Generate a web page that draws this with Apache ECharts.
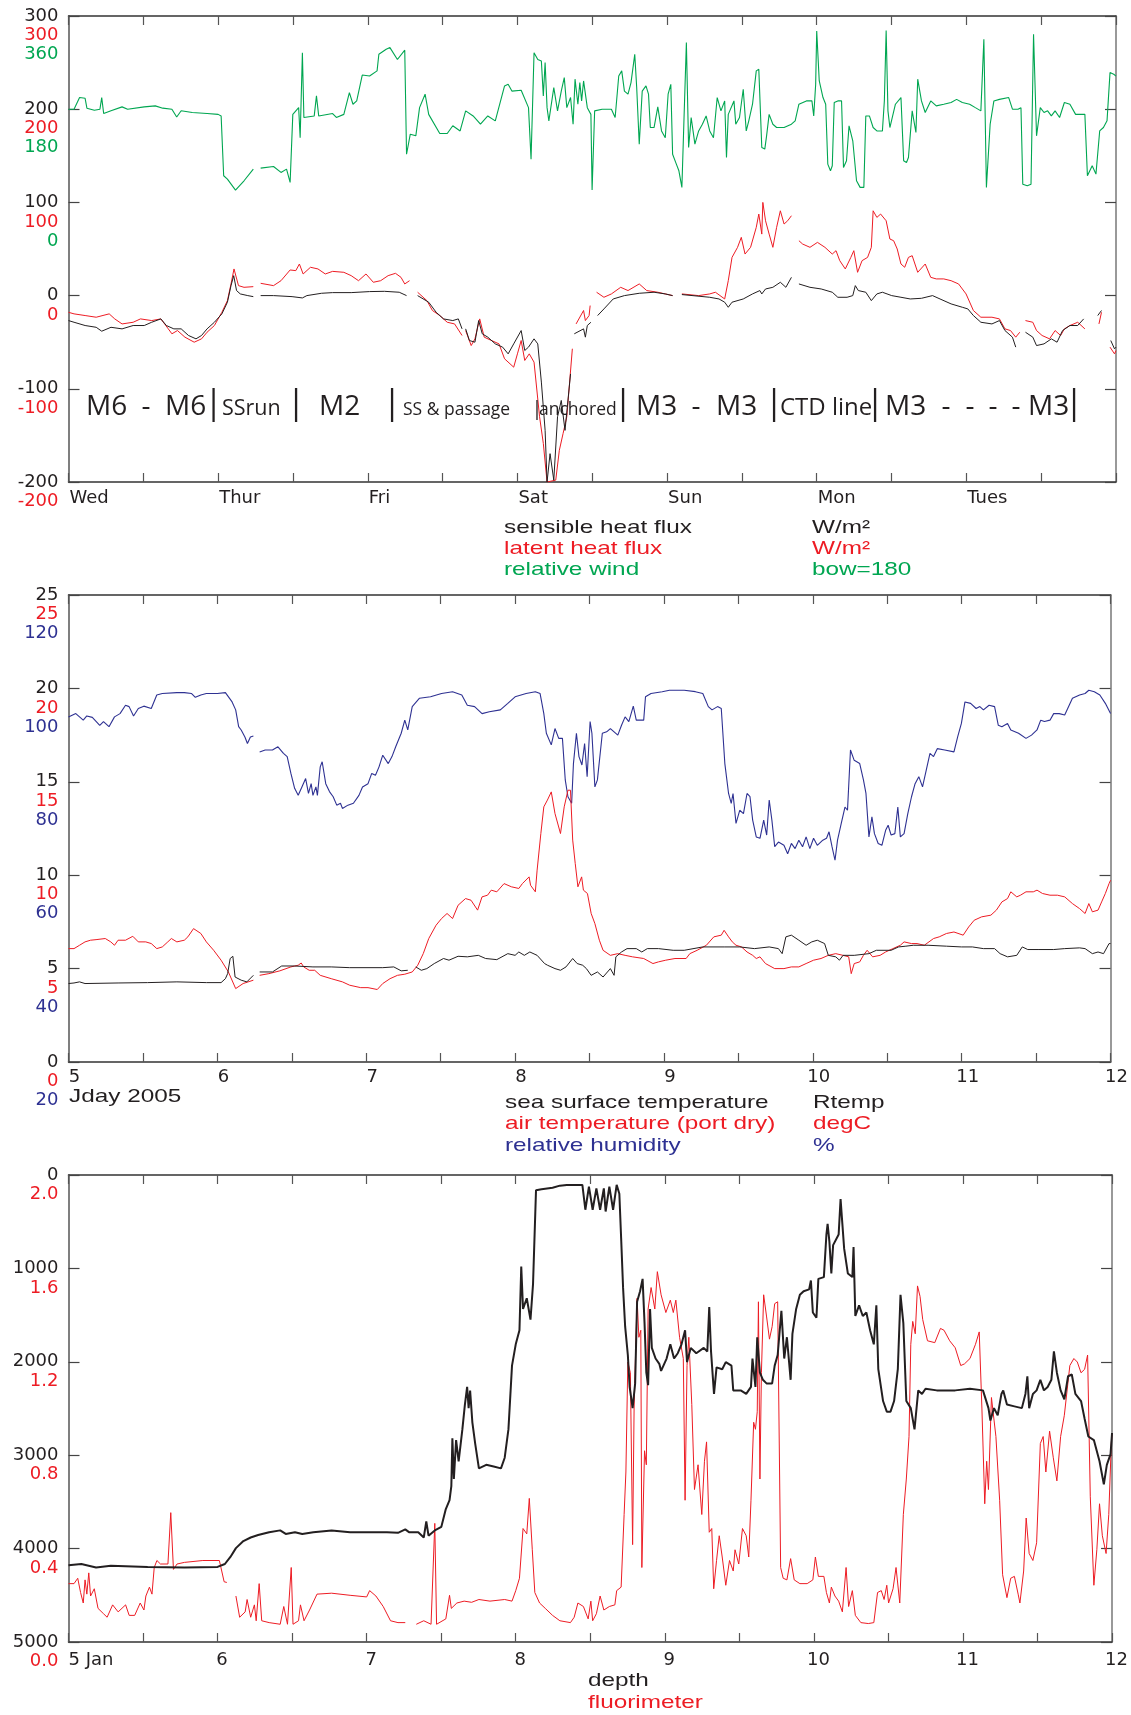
<!DOCTYPE html>
<html><head><meta charset="utf-8">
<script src="https://cdn.jsdelivr.net/npm/echarts@6/dist/echarts.min.js"></script>
<style>html,body{margin:0;padding:0;background:#fff}#c{width:1131px;height:1715px}</style>
</head><body><div id="c"></div>
<script>
// ---------- tick labels ----------
const dayNames = ['Wed','Thur','Fri','Sat','Sun','Mon','Tues'];
const windTickLabels = {100:'0', 200:'180', 300:'360'};
const fluorTickLabels = {0:'2.0', 1000:'1.6', 2000:'1.2', 3000:'0.8', 4000:'0.4', 5000:'0.0'};
const rhTickLabels = {0:'20', 5:'40', 10:'60', 15:'80', 20:'100', 25:'120'};

// ---------- panel 1 : fluxes (W/m2) and relative wind (deg) ----------
const sensibleFlux = [[5.000,-26.8],[5.037,-28.6],[5.111,-32.1],[5.185,-34],[5.222,-38.2],[5.284,-34],[5.358,-35.7],[5.432,-32.1],[5.506,-32.1],[5.556,-28.6],[5.617,-25],[5.654,-32.1],[5.704,-35.7],[5.753,-35.7],[5.802,-42.8],[5.852,-46.4],[5.889,-42.8],[5.926,-35.7],[5.975,-28.6],[6.025,-19.6],[6.062,-7.1],[6.086,10.7],[6.104,21.4],[6.123,5.4],[6.148,1.8],[6.198,0],[6.235,-1.1],[6.26,null],[6.284,0],[6.370,0],[6.494,-1.1],[6.563,-2.5],[6.593,0],[6.691,2.5],[6.765,3.2],[6.889,3.2],[7.012,4.3],[7.111,4.6],[7.210,3.6],[7.259,0],[7.30,null],[7.333,0],[7.407,-7.1],[7.457,-17.9],[7.506,-25],[7.568,-26.8],[7.605,-25],[7.630,-35.7],[7.642,null],[7.654,-35.7],[7.679,-48.2],[7.716,-50],[7.741,-26.8],[7.765,-41],[7.802,-44.6],[7.852,-51.8],[7.901,-55.3],[7.938,-62.5],[7.975,-51.8],[8.025,-37.5],[8.049,-58.9],[8.074,-55.3],[8.111,-46.4],[8.136,-51.8],[8.160,-92.8],[8.185,-144.6],[8.198,-200],[8.218,-169.6],[8.243,-198],[8.268,-130],[8.293,-112.5],[8.318,-144.6],[8.355,-84],[8.37,null],[8.380,-41],[8.442,-35.7],[8.454,-44.6],[8.467,-32.1],[8.491,-28.6],[8.51,null],[8.536,-21.4],[8.578,-14.3],[8.640,-3.6],[8.715,0],[8.814,2.5],[8.913,3.6],[8.988,1.8],[9.037,0],[9.07,null],[9.099,1.1],[9.285,-1.8],[9.347,-3.6],[9.385,-7.1],[9.409,-12.5],[9.434,-7.1],[9.509,-3.6],[9.571,1.8],[9.620,5.4],[9.633,1.8],[9.658,7.1],[9.707,8.9],[9.757,14.3],[9.794,8.9],[9.831,19.6],[9.86,null],[9.881,12.5],[9.955,8.9],[10.030,7.1],[10.104,3.6],[10.141,-1.8],[10.203,-1.8],[10.241,0],[10.258,10.7],[10.278,5.4],[10.328,3.6],[10.365,-5.4],[10.402,1.8],[10.439,3.6],[10.501,0],[10.563,-1.8],[10.625,-3.6],[10.700,-2.9],[10.774,0],[10.824,-3.6],[10.898,-8.9],[10.973,-12.5],[11.010,-14.3],[11.047,-21.4],[11.097,-28.6],[11.171,-30.4],[11.221,-26.8],[11.258,-37.5],[11.308,-44.6],[11.330,-55.3],[11.36,null],[11.395,-39.3],[11.444,-44.6],[11.469,-53.6],[11.519,-51.8],[11.568,-46.4],[11.606,-50],[11.643,-37.5],[11.692,-32.1],[11.744,-32.1],[11.784,-25],[11.83,null],[11.878,-21.4],[11.903,-16],[11.93,null],[11.965,-48.2],[11.990,-57.1],[12.0,-55.3]];

const latentFlux = [[5.000,-17.9],[5.037,-19.6],[5.111,-21.4],[5.185,-23.2],[5.272,-19.6],[5.309,-25],[5.358,-30.4],[5.432,-28.6],[5.481,-25],[5.556,-26.8],[5.617,-25],[5.667,-35.7],[5.691,-41],[5.728,-37.5],[5.778,-44.6],[5.840,-50],[5.889,-46.4],[5.926,-39.3],[5.975,-32.1],[6.025,-17.9],[6.062,-5.4],[6.086,12.5],[6.106,28.6],[6.136,10.7],[6.173,8.9],[6.235,9.6],[6.26,null],[6.284,13.2],[6.370,10.7],[6.420,16],[6.481,27.5],[6.519,26.8],[6.543,33.9],[6.568,23.2],[6.617,30.4],[6.667,28.6],[6.716,23.2],[6.765,26],[6.840,25],[6.889,21.4],[6.938,16],[6.988,23.2],[7.037,14.3],[7.086,16],[7.136,21.4],[7.185,23.9],[7.222,19.6],[7.247,12.5],[7.279,16],[7.30,null],[7.333,3.6],[7.395,-5.4],[7.432,-16],[7.481,-21.4],[7.531,-28.6],[7.580,-30.4],[7.630,-42.8],[7.642,null],[7.654,-37.5],[7.691,-53.6],[7.716,-46.4],[7.748,-25],[7.778,-44.6],[7.827,-48.2],[7.877,-51.8],[7.914,-67.8],[7.975,-76.8],[8.000,-62.5],[8.025,-48.2],[8.049,-69.6],[8.079,-62.5],[8.111,-71.4],[8.148,-130],[8.173,-158.6],[8.198,-200],[8.256,-198],[8.280,-166],[8.305,-148],[8.330,-130],[8.367,-57],[8.38,null],[8.392,-30.4],[8.442,-16],[8.454,-26.8],[8.479,-21.4],[8.486,-10.7],[8.51,null],[8.529,3.6],[8.578,-1.8],[8.628,1.8],[8.690,8.9],[8.739,5.4],[8.814,12.5],[8.864,5.4],[8.938,3.6],[9.037,0],[9.07,null],[9.099,1.8],[9.211,0],[9.285,1.8],[9.323,3.6],[9.385,-3.6],[9.409,16],[9.434,41],[9.471,51.8],[9.496,62.5],[9.521,44.6],[9.558,51.8],[9.596,73.2],[9.613,87.5],[9.633,66],[9.640,100],[9.658,80.3],[9.682,66],[9.707,51.8],[9.732,73.2],[9.757,91],[9.782,76.8],[9.806,80.3],[9.831,85.7],[9.86,null],[9.881,58.9],[9.906,55.3],[9.955,51.8],[10.005,57.1],[10.055,51.8],[10.104,44.6],[10.129,48.2],[10.154,37.5],[10.191,28.6],[10.228,41],[10.248,48.2],[10.273,25],[10.303,37.5],[10.340,41],[10.365,51.8],[10.377,91],[10.402,83.9],[10.427,87.5],[10.464,80.3],[10.489,60.7],[10.514,58.9],[10.538,50],[10.563,33.9],[10.588,30.4],[10.613,41],[10.638,42.8],[10.675,25],[10.725,33.9],[10.762,19.6],[10.799,17.9],[10.849,17.9],[10.898,16],[10.948,12.5],[10.998,1.8],[11.047,-16],[11.097,-23.2],[11.171,-23.2],[11.221,-25],[11.258,-35.7],[11.295,-37.5],[11.330,-44.6],[11.357,-39.3],[11.375,null],[11.395,-26.8],[11.444,-28.6],[11.469,-37.5],[11.506,-42.8],[11.556,-46.4],[11.593,-37.5],[11.630,-42.8],[11.655,-35.7],[11.692,-32.1],[11.744,-28.6],[11.792,-35.7],[11.84,null],[11.886,-30.4],[11.903,-17.9],[11.93,null],[11.960,-55.3],[11.990,-62.5],[12.0,-59]];

const relativeWind = [[5.000,180],[5.037,180],[5.074,202.5],[5.111,201],[5.123,182],[5.173,178],[5.210,180],[5.222,202.5],[5.235,171.6],[5.284,177],[5.358,184.5],[5.395,180],[5.506,184.5],[5.580,186.4],[5.630,182],[5.691,180],[5.723,165],[5.753,177],[5.827,173.6],[5.926,171.6],[6.000,170],[6.020,167],[6.037,51.4],[6.062,45],[6.116,23.8],[6.173,41.8],[6.235,64.3],[6.26,null],[6.284,66.2],[6.370,69.4],[6.420,57.9],[6.457,64.3],[6.481,38.6],[6.499,170],[6.538,183],[6.548,125],[6.563,289],[6.573,164],[6.642,167],[6.657,205.7],[6.672,167],[6.765,171.6],[6.790,164],[6.840,170],[6.877,212],[6.901,189.6],[6.926,196],[6.963,246],[7.012,244],[7.062,254],[7.074,286],[7.123,295.7],[7.148,299],[7.198,276],[7.247,294],[7.259,93],[7.284,131.8],[7.321,128.6],[7.346,183],[7.383,209],[7.407,170],[7.481,133],[7.531,133],[7.568,148],[7.617,138],[7.654,176.8],[7.704,167],[7.753,151],[7.802,167],[7.852,157.5],[7.914,225],[7.938,228],[7.963,215],[8.025,216.6],[8.074,183],[8.091,83.6],[8.111,289],[8.136,276],[8.160,273],[8.173,205.7],[8.185,270],[8.198,183],[8.210,157.5],[8.243,221.8],[8.268,176.8],[8.293,215],[8.313,241],[8.330,183],[8.355,202.5],[8.372,151],[8.385,238],[8.404,189.6],[8.417,231.4],[8.429,196],[8.442,234.6],[8.467,183],[8.491,170],[8.499,23.8],[8.516,176.8],[8.566,180],[8.628,180],[8.653,164],[8.677,244],[8.697,254],[8.715,215],[8.739,209],[8.759,231.4],[8.784,286],[8.797,221.8],[8.814,112.5],[8.834,215],[8.859,225],[8.876,209],[8.888,144.6],[8.913,144.6],[8.938,184.5],[8.963,138],[8.988,125],[9.007,209],[9.025,228],[9.037,93],[9.062,74],[9.079,61],[9.099,29],[9.112,151],[9.129,308.6],[9.144,106],[9.161,164],[9.186,112.5],[9.211,138],[9.236,151],[9.261,167],[9.285,138],[9.310,125],[9.335,202.5],[9.360,176.8],[9.385,196],[9.397,86.8],[9.409,170],[9.447,196],[9.459,151],[9.484,164],[9.509,218.6],[9.529,138],[9.546,157.5],[9.571,189.6],[9.596,254],[9.613,257],[9.633,106],[9.653,103],[9.665,128.6],[9.682,170],[9.707,151],[9.732,144.6],[9.782,144.6],[9.831,151],[9.856,157.5],[9.881,189.6],[9.931,196],[9.968,196],[9.980,167],[9.993,228],[10.000,331],[10.017,234.6],[10.042,202.5],[10.060,189.6],[10.074,74],[10.092,61],[10.104,70.7],[10.117,193],[10.141,196],[10.166,196],[10.179,67.5],[10.199,80.4],[10.216,148],[10.241,119],[10.266,41.8],[10.290,29],[10.315,29],[10.328,167],[10.352,167],[10.377,144.6],[10.402,138],[10.439,138],[10.452,196],[10.464,332],[10.476,176.8],[10.489,144.6],[10.526,189.6],[10.563,202.5],[10.581,80.4],[10.600,77],[10.613,86.8],[10.638,176.8],[10.663,135],[10.675,238],[10.700,196],[10.725,173.6],[10.762,196],[10.799,186.4],[10.849,189.6],[10.898,193],[10.935,199],[10.973,193],[11.022,189.6],[11.060,183],[11.097,176.8],[11.117,315],[11.134,29],[11.159,151],[11.184,196],[11.221,199],[11.283,202.5],[11.308,180],[11.345,180],[11.365,183],[11.377,35],[11.407,32],[11.432,35],[11.449,324.7],[11.469,128.6],[11.494,183],[11.519,173.6],[11.543,176.8],[11.568,167],[11.593,176.8],[11.623,164],[11.655,193],[11.692,189.6],[11.730,170],[11.792,170],[11.809,51.4],[11.841,70.7],[11.866,54.6],[11.891,138],[11.916,144.6],[11.940,157.5],[11.960,250.7],[11.985,247.5],[12.0,244]];

// ---------- panel 2 : temperatures (degC) and relative humidity (%) ----------
const seaSurfaceTemp = [[5.000,4.20],[5.037,4.23],[5.074,4.29],[5.111,4.20],[5.333,4.23],[5.531,4.25],[5.728,4.29],[5.926,4.25],[6.025,4.25],[6.054,4.46],[6.069,4.73],[6.086,5.54],[6.104,5.66],[6.119,4.55],[6.160,4.38],[6.198,4.29],[6.242,4.64],[6.26,null],[6.284,4.82],[6.370,4.82],[6.432,5.14],[6.519,5.14],[6.642,5.09],[6.765,5.09],[6.889,5.05],[7.012,5.05],[7.025,4.95],[7.111,5.05],[7.185,5.09],[7.235,4.88],[7.279,4.91],[7.30,null],[7.333,5.09],[7.370,4.91],[7.407,5.00],[7.457,5.27],[7.519,5.54],[7.556,5.45],[7.617,5.66],[7.679,5.63],[7.753,5.71],[7.802,5.54],[7.877,5.48],[7.951,5.80],[8.000,5.71],[8.025,5.89],[8.062,5.71],[8.099,5.89],[8.148,5.71],[8.198,5.27],[8.218,5.18],[8.268,5.00],[8.305,4.91],[8.342,5.09],[8.387,5.54],[8.417,5.27],[8.454,5.18],[8.479,5.00],[8.511,4.64],[8.553,4.82],[8.591,4.55],[8.640,5.00],[8.665,4.64],[8.677,5.63],[8.715,5.89],[8.752,6.07],[8.814,6.07],[8.851,5.89],[8.888,6.07],[8.963,6.07],[9.062,5.98],[9.136,5.98],[9.261,6.16],[9.409,6.16],[9.509,6.16],[9.608,6.07],[9.707,6.16],[9.769,6.07],[9.794,5.80],[9.819,6.70],[9.856,6.79],[9.906,6.52],[9.955,6.25],[9.993,6.43],[10.030,6.52],[10.079,6.34],[10.104,5.71],[10.154,5.63],[10.179,5.45],[10.203,5.71],[10.278,5.71],[10.377,5.80],[10.427,5.98],[10.526,5.98],[10.576,6.16],[10.625,6.20],[10.675,6.25],[10.774,6.25],[10.898,6.20],[10.998,6.16],[11.072,6.16],[11.146,6.07],[11.221,6.07],[11.258,5.80],[11.308,5.63],[11.370,5.71],[11.407,6.16],[11.444,6.02],[11.519,6.02],[11.618,6.02],[11.692,6.07],[11.792,6.11],[11.829,6.07],[11.878,5.80],[11.916,5.89],[11.953,5.80],[11.990,6.34],[12.0,6.34]];

const airTemp = [[5.000,6.07],[5.037,6.07],[5.074,6.25],[5.111,6.43],[5.148,6.52],[5.185,6.55],[5.247,6.61],[5.284,6.43],[5.309,6.25],[5.333,6.52],[5.383,6.52],[5.432,6.73],[5.469,6.43],[5.519,6.43],[5.556,6.34],[5.593,6.07],[5.630,6.16],[5.667,6.43],[5.691,6.61],[5.728,6.43],[5.778,6.52],[5.802,6.70],[5.840,7.14],[5.889,6.88],[5.926,6.43],[5.975,5.98],[6.025,5.45],[6.074,4.82],[6.123,3.93],[6.173,4.20],[6.242,4.38],[6.26,null],[6.284,4.64],[6.346,4.73],[6.420,4.88],[6.494,5.09],[6.543,5.18],[6.563,5.30],[6.580,5.09],[6.617,4.91],[6.654,4.91],[6.691,4.64],[6.765,4.46],[6.840,4.29],[6.889,4.11],[6.963,3.98],[7.012,3.98],[7.074,3.88],[7.111,4.20],[7.160,4.46],[7.210,4.64],[7.259,4.70],[7.309,4.82],[7.346,5.18],[7.383,5.80],[7.420,6.61],[7.469,7.32],[7.506,7.68],[7.543,7.95],[7.580,7.68],[7.617,8.39],[7.667,8.75],[7.704,8.66],[7.748,8.13],[7.778,8.84],[7.815,8.93],[7.840,9.20],[7.877,9.11],[7.926,9.55],[7.975,9.38],[8.025,9.29],[8.049,9.55],[8.094,9.91],[8.104,9.46],[8.136,9.11],[8.148,10.27],[8.173,12.23],[8.193,13.66],[8.217,14.02],[8.243,14.46],[8.268,13.30],[8.305,12.23],[8.330,13.66],[8.355,14.55],[8.372,14.55],[8.387,11.88],[8.404,10.63],[8.422,9.38],[8.447,9.91],[8.459,9.20],[8.486,9.02],[8.511,7.95],[8.536,7.41],[8.566,6.52],[8.591,5.98],[8.640,5.71],[8.690,5.80],[8.739,5.71],[8.789,5.63],[8.864,5.54],[8.926,5.27],[8.963,5.36],[9.012,5.45],[9.074,5.54],[9.149,5.54],[9.174,5.80],[9.223,5.98],[9.285,6.25],[9.335,6.70],[9.385,6.79],[9.404,7.05],[9.434,6.70],[9.459,6.43],[9.484,6.25],[9.521,6.16],[9.558,5.89],[9.596,5.71],[9.620,5.54],[9.645,5.63],[9.682,5.27],[9.744,5.00],[9.806,5.00],[9.856,5.09],[9.906,5.09],[9.955,5.27],[10.005,5.45],[10.055,5.54],[10.104,5.71],[10.154,5.80],[10.203,5.71],[10.241,5.63],[10.258,4.73],[10.278,5.27],[10.315,5.36],[10.340,5.71],[10.365,5.98],[10.402,5.63],[10.452,5.71],[10.489,5.89],[10.538,6.07],[10.588,6.25],[10.613,6.43],[10.663,6.34],[10.700,6.34],[10.749,6.25],[10.811,6.61],[10.849,6.70],[10.898,6.88],[10.948,6.96],[11.010,6.79],[11.047,7.23],[11.084,7.59],[11.134,7.77],[11.196,7.86],[11.233,8.13],[11.270,8.57],[11.308,8.75],[11.330,9.11],[11.370,8.84],[11.395,8.93],[11.432,9.11],[11.481,9.11],[11.506,9.20],[11.543,9.02],[11.593,8.93],[11.643,8.93],[11.692,8.84],[11.744,8.48],[11.792,8.21],[11.829,7.95],[11.854,8.48],[11.878,8.04],[11.916,8.13],[11.940,8.57],[11.965,9.02],[11.990,9.55],[12.0,9.73]];

const relHumidity = [[5.000,93.9],[5.049,94.6],[5.099,93.2],[5.123,94.1],[5.160,93.8],[5.210,92.1],[5.235,92.9],[5.272,91.8],[5.309,93.9],[5.346,94.6],[5.383,96.4],[5.407,96.1],[5.437,94.1],[5.469,95.7],[5.506,96.2],[5.556,95.7],[5.593,98.6],[5.630,98.9],[5.728,99.1],[5.778,99.1],[5.827,98.9],[5.852,98.1],[5.889,98.6],[5.926,98.9],[6.000,98.9],[6.054,99.1],[6.099,97.1],[6.123,95.4],[6.143,91.8],[6.160,91.1],[6.185,89.6],[6.202,88.2],[6.222,89.6],[6.242,89.8],[6.26,null],[6.284,86.4],[6.321,86.8],[6.370,86.8],[6.407,87.5],[6.444,86.1],[6.469,85.4],[6.494,81.8],[6.519,78.6],[6.543,77.1],[6.568,78.9],[6.593,80.7],[6.612,77.5],[6.630,79.6],[6.642,77.1],[6.662,78.9],[6.672,77.1],[6.691,83.2],[6.704,84.3],[6.728,79.6],[6.753,77.9],[6.778,76.8],[6.802,75],[6.827,75.4],[6.840,74.3],[6.877,75],[6.914,75.4],[6.951,77.1],[6.975,78.9],[7.012,79.6],[7.037,81.8],[7.062,81.4],[7.086,83.2],[7.111,85.7],[7.148,83.9],[7.173,85.4],[7.198,87.5],[7.235,90.4],[7.259,93.2],[7.279,91.1],[7.309,96.1],[7.358,97.9],[7.432,98.2],[7.506,98.9],[7.580,99.3],[7.642,98.6],[7.679,96.4],[7.728,96.1],[7.778,94.6],[7.827,95],[7.901,95.4],[7.951,96.8],[8.000,98.2],[8.074,98.9],[8.136,99.3],[8.168,98.9],[8.193,94.6],[8.210,90.4],[8.243,87.9],[8.268,91.4],[8.293,89.3],[8.318,89.3],[8.337,80.4],[8.355,76.8],[8.380,75.4],[8.392,83.9],[8.412,90.4],[8.429,85.4],[8.449,83.6],[8.467,88.2],[8.484,81.1],[8.504,92.9],[8.516,90.4],[8.536,78.9],[8.553,80.4],[8.586,90.4],[8.615,90.7],[8.640,91.4],[8.665,90.7],[8.690,90],[8.715,92.1],[8.739,93.9],[8.764,92.9],[8.794,96.2],[8.814,93.2],[8.864,93.2],[8.876,98.2],[8.913,98.9],[8.988,99.3],[9.037,99.6],[9.136,99.6],[9.211,99.3],[9.261,98.9],[9.298,96.1],[9.323,95.4],[9.360,96.1],[9.385,95.7],[9.409,83.9],[9.434,77.5],[9.452,75.4],[9.464,77.5],[9.484,71.1],[9.509,73.9],[9.534,73.2],[9.558,77.5],[9.578,76.8],[9.596,71.8],[9.620,68.2],[9.645,67.9],[9.670,71.8],[9.690,68.6],[9.707,76.1],[9.725,71.8],[9.744,66.1],[9.769,67.1],[9.806,66.4],[9.831,64.6],[9.856,66.8],[9.881,65.7],[9.906,67.5],[9.931,66.1],[9.955,68.2],[9.980,65.7],[10.005,67.9],[10.030,66.4],[10.067,67.5],[10.092,67.9],[10.109,69.3],[10.129,66.1],[10.149,63.2],[10.166,67.5],[10.191,71.1],[10.216,74.6],[10.233,73.9],[10.253,86.8],[10.278,84.6],[10.315,83.9],[10.340,80.4],[10.357,77.5],[10.377,68.2],[10.397,72.5],[10.414,68.9],[10.439,66.8],[10.464,66.4],[10.489,69.6],[10.506,70.7],[10.526,68.6],[10.551,68.9],[10.571,74.6],[10.588,68.2],[10.613,68.9],[10.638,73.2],[10.663,76.8],[10.687,79.6],[10.712,81.1],[10.737,78.9],[10.762,82.5],[10.787,86.1],[10.811,85.4],[10.836,87.1],[10.886,86.8],[10.948,86.4],[10.973,89.6],[10.998,92.5],[11.022,97.1],[11.060,96.8],[11.097,95.7],[11.122,96.1],[11.146,95.4],[11.184,96.4],[11.221,96.1],[11.246,92.1],[11.270,91.8],[11.308,92.5],[11.330,91.1],[11.382,90.4],[11.432,89.3],[11.469,90],[11.506,91.1],[11.531,93.2],[11.556,92.9],[11.593,93.2],[11.618,94.6],[11.655,94.6],[11.692,94.3],[11.744,97.9],[11.792,98.6],[11.829,98.9],[11.854,99.6],[11.891,99.3],[11.928,98.6],[11.965,96.8],[12.0,94.6]];

// ---------- panel 3 : depth (m) and fluorimeter ----------
const depth = [[5.000,4177],[5.086,4165],[5.185,4203],[5.284,4184],[5.531,4196],[5.778,4203],[6.000,4196],[6.049,4165],[6.086,4089],[6.123,3995],[6.173,3919],[6.222,3881],[6.272,3854],[6.346,3824],[6.420,3805],[6.457,3843],[6.519,3824],[6.568,3843],[6.642,3824],[6.765,3805],[6.889,3824],[7.012,3824],[7.136,3824],[7.210,3831],[7.259,3794],[7.284,3824],[7.346,3824],[7.383,3881],[7.400,3710],[7.415,3862],[7.457,3805],[7.501,3767],[7.531,3577],[7.556,3482],[7.568,3331],[7.575,2819],[7.585,3255],[7.600,2838],[7.617,3065],[7.642,2724],[7.659,2458],[7.674,2269],[7.684,2496],[7.694,2307],[7.709,2648],[7.728,2876],[7.753,3141],[7.802,3103],[7.852,3122],[7.901,3141],[7.926,3027],[7.951,2724],[7.975,2041],[8.000,1813],[8.025,1662],[8.037,979],[8.049,1434],[8.074,1320],[8.099,1548],[8.116,1168],[8.136,163],[8.173,152],[8.247,137],[8.296,114],[8.342,106],[8.447,106],[8.467,372],[8.491,125],[8.516,372],[8.541,144],[8.566,372],[8.591,144],[8.603,391],[8.628,125],[8.653,372],[8.677,106],[8.695,201],[8.707,675],[8.720,1206],[8.734,1624],[8.752,1927],[8.764,2269],[8.784,2496],[8.801,2231],[8.814,1358],[8.834,1244],[8.851,1112],[8.864,1586],[8.876,2117],[8.888,2250],[8.901,1434],[8.913,1851],[8.938,1965],[8.963,2022],[8.975,2098],[9.012,1965],[9.037,1813],[9.062,1965],[9.087,1908],[9.112,1813],[9.136,1662],[9.149,2003],[9.174,1851],[9.211,1908],[9.261,1851],[9.285,1889],[9.298,1415],[9.310,1889],[9.330,2344],[9.347,2060],[9.385,2079],[9.409,2003],[9.447,2041],[9.459,2306],[9.509,2306],[9.546,2344],[9.578,2269],[9.588,1965],[9.608,2269],[9.620,1737],[9.638,2117],[9.658,2193],[9.682,2231],[9.720,2231],[9.737,2041],[9.757,1927],[9.782,1453],[9.801,1965],[9.819,1737],[9.844,2193],[9.856,1700],[9.881,1434],[9.906,1282],[9.931,1244],[9.968,1225],[9.980,1130],[9.993,1472],[10.017,1529],[10.030,1112],[10.067,1093],[10.084,637],[10.092,524],[10.104,713],[10.117,1055],[10.129,751],[10.166,637],[10.179,258],[10.191,524],[10.203,789],[10.228,1055],[10.258,1093],[10.266,770],[10.278,1510],[10.303,1396],[10.328,1510],[10.352,1472],[10.377,1662],[10.402,1813],[10.419,1396],[10.432,2079],[10.464,2420],[10.489,2534],[10.514,2534],[10.538,2420],[10.563,2079],[10.581,1282],[10.600,1586],[10.620,2420],[10.650,2496],[10.675,2724],[10.700,2306],[10.725,2344],[10.749,2288],[10.824,2306],[10.948,2306],[11.047,2288],[11.134,2306],[11.171,2496],[11.184,2629],[11.208,2496],[11.233,2572],[11.258,2344],[11.270,2306],[11.295,2458],[11.345,2477],[11.395,2496],[11.419,2344],[11.432,2155],[11.444,2496],[11.469,2344],[11.494,2306],[11.519,2193],[11.543,2306],[11.568,2269],[11.593,2193],[11.610,1889],[11.630,2117],[11.655,2306],[11.680,2401],[11.705,2155],[11.730,2136],[11.754,2344],[11.792,2420],[11.816,2610],[11.841,2800],[11.878,2838],[11.916,3065],[11.945,3312],[11.965,3103],[11.990,2989],[12.0,2762]];

const fluorimeter = [[5.000,0.250],[5.037,0.250],[5.062,0.273],[5.081,0.212],[5.099,0.167],[5.111,0.266],[5.123,0.205],[5.136,0.296],[5.148,0.197],[5.173,0.228],[5.198,0.144],[5.235,0.121],[5.259,0.106],[5.296,0.159],[5.333,0.129],[5.383,0.159],[5.407,0.114],[5.444,0.114],[5.481,0.167],[5.506,0.137],[5.519,0.197],[5.543,0.235],[5.560,0.205],[5.575,0.319],[5.593,0.349],[5.617,0.334],[5.667,0.334],[5.686,0.554],[5.704,0.311],[5.728,0.334],[5.778,0.341],[5.901,0.349],[6.012,0.349],[6.025,0.357],[6.044,0.258],[6.062,0.255],[6.09,null],[6.123,0.197],[6.148,0.106],[6.185,0.129],[6.198,0.182],[6.222,0.106],[6.247,0.159],[6.259,0.091],[6.279,0.250],[6.296,0.091],[6.346,0.083],[6.420,0.076],[6.444,0.152],[6.469,0.076],[6.494,0.319],[6.506,0.076],[6.543,0.091],[6.556,0.159],[6.580,0.091],[6.617,0.137],[6.667,0.205],[6.765,0.209],[6.889,0.200],[7.000,0.193],[7.020,0.220],[7.062,0.197],[7.111,0.152],[7.160,0.091],[7.210,0.083],[7.259,0.083],[7.30,null],[7.333,0.076],[7.383,0.091],[7.432,0.076],[7.457,0.508],[7.469,0.076],[7.531,0.099],[7.556,0.200],[7.568,0.144],[7.605,0.167],[7.654,0.175],[7.704,0.170],[7.753,0.182],[7.827,0.175],[7.926,0.182],[7.975,0.175],[8.000,0.220],[8.025,0.273],[8.049,0.486],[8.074,0.463],[8.091,0.615],[8.111,0.395],[8.128,0.212],[8.160,0.167],[8.198,0.144],[8.247,0.114],[8.296,0.091],[8.367,0.083],[8.392,0.106],[8.417,0.167],[8.454,0.152],[8.486,0.099],[8.504,0.175],[8.516,0.091],[8.541,0.121],[8.566,0.197],[8.591,0.137],[8.628,0.152],[8.665,0.159],[8.677,0.220],[8.707,0.235],[8.727,0.546],[8.739,0.728],[8.752,1.199],[8.769,1.153],[8.784,0.417],[8.794,1.002],[8.814,1.472],[8.826,1.305],[8.839,1.335],[8.846,0.319],[8.864,0.819],[8.876,0.759],[8.888,1.426],[8.908,1.518],[8.933,1.426],[8.950,1.586],[8.975,1.487],[9.007,1.411],[9.037,1.464],[9.057,1.411],[9.074,1.464],[9.099,1.305],[9.124,1.214],[9.136,0.607],[9.149,1.184],[9.161,1.305],[9.181,1.017],[9.199,0.653],[9.223,0.759],[9.248,0.546],[9.266,0.774],[9.280,0.857],[9.298,0.470],[9.315,0.486],[9.328,0.228],[9.347,0.349],[9.365,0.455],[9.385,0.364],[9.409,0.243],[9.434,0.349],[9.459,0.304],[9.471,0.395],[9.496,0.334],[9.521,0.486],[9.546,0.455],[9.563,0.364],[9.578,0.607],[9.596,0.941],[9.608,0.911],[9.620,0.986],[9.628,1.457],[9.638,0.698],[9.648,1.153],[9.663,1.487],[9.682,1.396],[9.702,1.297],[9.720,1.351],[9.737,1.449],[9.757,1.457],[9.777,0.319],[9.794,0.273],[9.819,0.266],[9.844,0.357],[9.868,0.266],[9.906,0.250],[9.955,0.250],[9.993,0.266],[10.010,0.364],[10.030,0.281],[10.067,0.281],[10.084,0.212],[10.104,0.167],[10.117,0.235],[10.141,0.197],[10.166,0.175],[10.191,0.129],[10.216,0.319],[10.233,0.152],[10.258,0.220],[10.278,0.114],[10.315,0.083],[10.365,0.079],[10.402,0.083],[10.427,0.212],[10.452,0.220],[10.471,0.182],[10.489,0.243],[10.501,0.167],[10.531,0.228],[10.551,0.319],[10.576,0.167],[10.600,0.546],[10.620,0.698],[10.638,0.880],[10.650,1.275],[10.663,1.373],[10.680,1.320],[10.695,1.525],[10.712,1.480],[10.730,1.381],[10.762,1.290],[10.811,1.282],[10.849,1.343],[10.873,1.335],[10.911,1.290],[10.948,1.260],[10.985,1.184],[11.010,1.191],[11.047,1.214],[11.084,1.275],[11.109,1.328],[11.127,1.002],[11.146,0.592],[11.159,0.774],[11.171,0.653],[11.191,1.047],[11.221,0.880],[11.246,0.607],[11.266,0.288],[11.295,0.190],[11.320,0.273],[11.345,0.281],[11.370,0.205],[11.382,0.167],[11.407,0.304],[11.424,0.531],[11.444,0.379],[11.469,0.349],[11.494,0.425],[11.519,0.850],[11.538,0.880],[11.556,0.728],[11.581,0.903],[11.606,0.789],[11.630,0.690],[11.655,0.880],[11.680,0.971],[11.717,1.184],[11.744,1.214],[11.767,1.199],[11.792,1.153],[11.816,1.168],[11.836,1.229],[11.854,0.622],[11.878,0.243],[11.898,0.395],[11.916,0.592],[11.935,0.455],[11.960,0.379],[11.978,0.546],[11.995,0.850],[12.0,0.895]];

// ---------- styling ----------
const K = '#231f20', RED = '#ed1c24', GRN = '#00a651', BLU = '#2e3192';
const AX = 'DejaVu Sans';
const chart = echarts.init(document.getElementById('c'), null, {renderer: 'canvas'});
const isInt = v => Math.abs(v - Math.round(v)) < 1e-6;

const grids = [
  {left: 68.5, right: 15, top: 16, height: 466},
  {left: 68.5, right: 15, top: 595, height: 467},
  {left: 68.5, right: 15, top: 1175, height: 467}
];

const lineAx = {onZero: false, lineStyle: {color: '#333', width: 1.5}};
const tickStyle = {inside: true, length: 9, lineStyle: {color: '#555', width: 1.2}};
function xPair(gi, label) {
  return [
    {type: 'value', gridIndex: gi, min: 5, max: 12, interval: 0.5, position: 'bottom',
     axisLine: lineAx, axisTick: tickStyle, splitLine: {show: false},
     axisLabel: Object.assign({showMinLabel: true, showMaxLabel: true}, label)},
    {type: 'value', gridIndex: gi, min: 5, max: 12, interval: 0.5, position: 'top',
     axisLine: lineAx, axisTick: tickStyle, splitLine: {show: false}, axisLabel: {show: false}}
  ];
}
// main left axis: line, ticks and black labels centred on ticks
function yLeft(gi, min, max, interval, inverse) {
  return {type: 'value', gridIndex: gi, min, max, interval, position: 'left', inverse: !!inverse,
    axisLine: {show: true, onZero: false, lineStyle: {color: '#555', width: 1.5}},
    axisTick: {inside: true, length: 11, lineStyle: {color: '#444', width: 1.2}},
    splitLine: {show: false},
    axisLabel: {formatter: v => String(v), margin: 10, color: K, fontFamily: AX, fontSize: 18,
      showMinLabel: true, showMaxLabel: true}};
}
// extra label-only axis: coloured labels stacked below each black label
function yLabels(gi, min, max, interval, fmt, color, drop, inverse) {
  return {type: 'value', gridIndex: gi, min, max, interval, position: 'left', inverse: !!inverse,
    axisLine: {show: false, onZero: false}, axisTick: {show: false}, splitLine: {show: false},
    axisLabel: {formatter: fmt, margin: 10, color, fontFamily: AX, fontSize: 18, lineHeight: 19,
      verticalAlign: 'top', padding: [drop, 0, 0, 0], showMinLabel: true, showMaxLabel: true}};
}
function yRight(gi, min, max, interval, inverse) {
  return {type: 'value', gridIndex: gi, min, max, interval, position: 'right', inverse: !!inverse,
    axisLine: {show: true, onZero: false, lineStyle: {color: '#777', width: 1.5}},
    axisTick: {inside: true, length: 11, lineStyle: {color: '#444', width: 1.2}},
    splitLine: {show: false}, axisLabel: {show: false}};
}
function yHidden(gi, min, max) {
  return {type: 'value', gridIndex: gi, min, max, show: false, splitLine: {show: false}};
}

const xLabel1 = {formatter: v => (isInt(v) && v < 12) ? dayNames[Math.round(v) - 5] : '',
  align: 'left', margin: 7, color: K, fontFamily: AX, fontSize: 18, padding: [0, 0, 0, 1]};
const xLabel2 = {formatter: v => isInt(v) ? '{n|' + Math.round(v) + '}' : '',
  margin: 6, rich: {n: {color: K, fontFamily: AX, fontSize: 18, padding: [0, 0, 0, 12]}}};
const xLabel3 = {formatter: v => !isInt(v) ? '' : (Math.round(v) === 5 ? '{m|5 Jan}' : '{n|' + Math.round(v) + '}'),
  margin: 9, alignMinLabel: 'left',
  rich: {m: {color: K, fontFamily: AX, fontSize: 18}, n: {color: K, fontFamily: AX, fontSize: 18, padding: [0, 0, 0, 9]}}};

const line = (name, data, xi, yi, color, w, z) => ({
  name, type: 'line', data, xAxisIndex: xi, yAxisIndex: yi, showSymbol: false, symbol: 'none',
  connectNulls: false, clip: true, lineStyle: {color, width: w}, z: z || 2, animation: false, silent: true
});

// ---------- text graphics ----------
const SX = 1.28;
const LF = 'Liberation Sans';
function gt(x, y, text, color, size, font, scaleX, align) {
  return {type: 'text', x, y, scaleX: scaleX || 1, silent: true, z: 100,
    style: {text, fill: color, fontSize: size, fontFamily: font,
      align: align || 'left', verticalAlign: 'middle', textAlign: align || 'left', textVerticalAlign: 'middle'}};
}
const annot = [
  [86,'M6',28],[146,'-',28,'center'],[165,'M6',28],[213.6,'|',34,'center'],[222,'SSrun',21.5],
  [296,'|',34,'center'],[319,'M2',28],[392,'|',34,'center'],[403,'SS & passage',17.5],
  [537,'|',20,'center'],[539,'anchored',17.5],[623,'|',34,'center'],[636,'M3',28],[696,'-',28,'center'],
  [716,'M3',28],[774,'|',34,'center'],[780,'CTD line',24],[875,'|',34,'center'],[885,'M3',28],
  [946,'-',28,'center'],[970,'-',28,'center'],[993,'-',28,'center'],[1016,'-',28,'center'],
  [1028,'M3',28],[1074,'|',34,'center']
];
const BASE = 416;
const graphics = annot.map(a => gt(a[0], BASE - 0.33 * a[2], a[1], K, a[2], 'Open Sans', 1, a[3] || 'left'));
graphics.push(
  gt(504, 528, 'sensible heat flux', K, 19, LF, SX), gt(504, 549, 'latent heat flux', RED, 19, LF, SX),
  gt(504, 570, 'relative wind', GRN, 19, LF, SX),
  gt(812, 528, 'W/m\u00b2', K, 19, LF, SX), gt(812, 549, 'W/m\u00b2', RED, 19, LF, SX),
  gt(812, 570, 'bow=180', GRN, 19, LF, SX),
  gt(69, 1097, 'Jday 2005', K, 19, LF, SX),
  gt(505, 1103, 'sea surface temperature', K, 19, LF, SX), gt(505, 1124, 'air temperature (port dry)', RED, 19, LF, SX),
  gt(505, 1146, 'relative humidity', BLU, 19, LF, SX),
  gt(813, 1103, 'Rtemp', K, 19, LF, SX), gt(813, 1124, 'degC', RED, 19, LF, SX), gt(813, 1146, '%', BLU, 19, LF, SX),
  gt(588, 1681, 'depth', K, 19, LF, SX), gt(588, 1703, 'fluorimeter', RED, 19, LF, SX)
);

chart.setOption({
  animation: false,
  backgroundColor: '#fff',
  grid: grids,
  xAxis: [...xPair(0, xLabel1), ...xPair(1, xLabel2), ...xPair(2, xLabel3)],
  yAxis: [
    // grid 0 : 0..4
    yLeft(0, -200, 300, 100),
    yLabels(0, -200, 300, 100, v => String(v), RED, 10),
    yLabels(0, -200, 300, 100, v => windTickLabels[v] !== undefined ? windTickLabels[v] : '', GRN, 29),
    yRight(0, -200, 300, 100),
    yHidden(0, -540, 360),
    // grid 1 : 5..9
    yLeft(1, 0, 25, 5),
    yLabels(1, 0, 25, 5, v => String(v), RED, 10),
    yLabels(1, 0, 25, 5, v => rhTickLabels[v], BLU, 29),
    yRight(1, 0, 25, 5),
    yHidden(1, 20, 120),
    // grid 2 : 10..13
    yLeft(2, 0, 5000, 1000, true),
    yLabels(2, 0, 5000, 1000, v => fluorTickLabels[v], RED, 10, true),
    yRight(2, 0, 5000, 1000, true),
    yHidden(2, 0, 2)
  ],
  series: [
    line('relative wind', relativeWind, 0, 4, GRN, 1.1, 2),
    line('latent heat flux', latentFlux, 0, 0, RED, 1, 3),
    line('sensible heat flux', sensibleFlux, 0, 0, K, 1, 4),
    line('relative humidity', relHumidity, 2, 9, BLU, 1.1, 2),
    line('air temperature', airTemp, 2, 5, RED, 1, 3),
    line('sea surface temperature', seaSurfaceTemp, 2, 5, K, 1, 4),
    line('fluorimeter', fluorimeter, 4, 13, RED, 1, 2),
    line('depth', depth, 4, 10, K, 2, 3)
  ],
  graphic: graphics
});
</script>
</body></html>
